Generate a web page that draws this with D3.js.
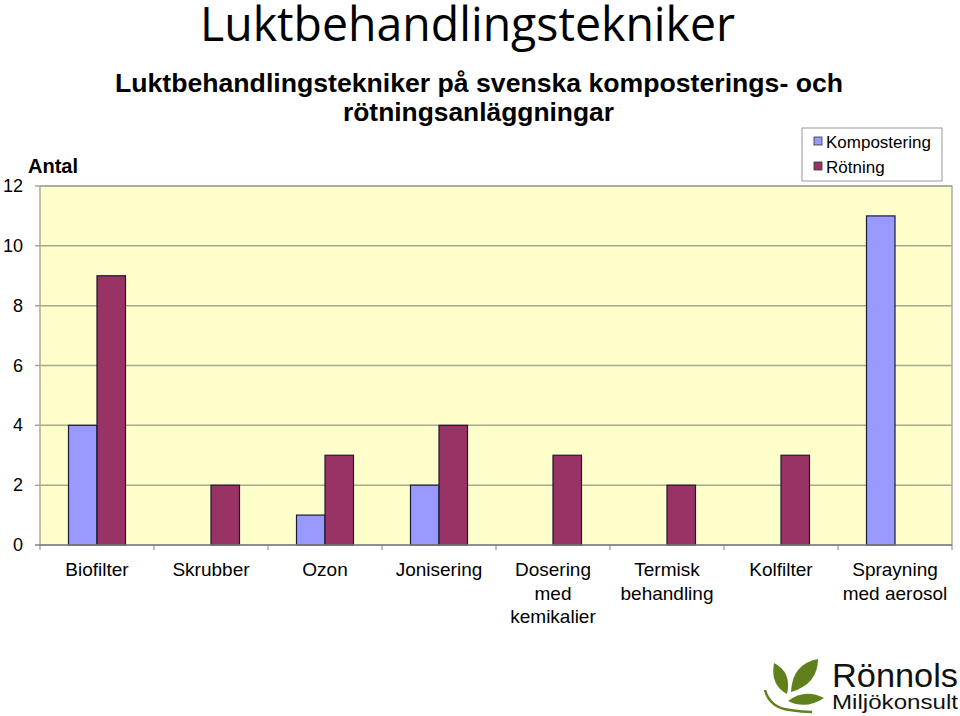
<!DOCTYPE html>
<html><head><meta charset="utf-8">
<script src="https://cdn.jsdelivr.net/npm/d3@7"></script>
<style>body{margin:0;background:#fff}svg{display:block}</style>
</head><body>
<script>
const categories = [["Biofilter"],["Skrubber"],["Ozon"],["Jonisering"],["Dosering","med","kemikalier"],["Termisk","behandling"],["Kolfilter"],["Sprayning","med aerosol"]];
const seriesNames = ["Kompostering","Rötning"];
const kompostering = [4,0,1,2,0,0,0,11];
const rotning = [9,2,3,4,3,2,3,0];
const yTicks = [0,2,4,6,8,10,12];
const colors = ["#9999FF","#993366"];

const W=960,H=716;
const svg=d3.select("body").append("svg").attr("width",W).attr("height",H);
const m={l:40,r:8,t:186,b:171};
const x=d3.scaleBand().domain(d3.range(categories.length)).range([m.l,W-m.r]);
const y=d3.scaleLinear().domain([0,12]).range([H-m.b,m.t]);
const font="Liberation Sans, Arial, sans-serif";

svg.append("text").attr("x",200).attr("y",41)
 .style("font-family","'Open Sans', Lato, sans-serif").style("font-size","47px").attr("fill","#000")
 .attr("textLength",535).attr("lengthAdjust","spacingAndGlyphs").text("Luktbehandlingstekniker");
svg.append("text").attr("x",115).attr("y",92).style("font-family",font).style("font-size","25px").style("font-weight","bold")
 .attr("textLength",728).attr("lengthAdjust","spacingAndGlyphs").text("Luktbehandlingstekniker på svenska komposterings- och");
svg.append("text").attr("x",343).attr("y",121).style("font-family",font).style("font-size","25px").style("font-weight","bold")
 .attr("textLength",271).attr("lengthAdjust","spacingAndGlyphs").text("rötningsanläggningar");

svg.append("rect").attr("x",m.l).attr("y",m.t).attr("width",W-m.r-m.l).attr("height",H-m.b-m.t).attr("fill","#FFFFCC").attr("stroke","#808080");
svg.append("g").selectAll("line").data(yTicks.filter(d=>d>0)).join("line")
 .attr("x1",m.l-5).attr("x2",W-m.r).attr("y1",d=>y(d)).attr("y2",d=>y(d)).attr("stroke","#a8a890").attr("stroke-width",1.5);
svg.append("g").selectAll("text").data(yTicks).join("text")
 .attr("x",23).attr("y",d=>y(d)+6).attr("text-anchor","end").style("font-family",font).style("font-size","18px").text(d=>d);
svg.append("text").attr("x",28).attr("y",173).style("font-family",font).style("font-size","20px").style("font-weight","bold").text("Antal");

const bw=x.bandwidth()/4;
const data=[kompostering,rotning];
data.forEach((s,si)=>{
 svg.append("g").selectAll("rect").data(s.map((v,i)=>({v,i})).filter(d=>d.v>0)).join("rect")
  .attr("x",d=>x(d.i)+x.bandwidth()/4+si*bw).attr("y",d=>y(d.v)).attr("width",bw).attr("height",d=>y(0)-y(d.v))
  .attr("fill",colors[si]).attr("stroke","#1a1a33").attr("stroke-width",1.2);
});
svg.append("line").attr("x1",m.l-5).attr("x2",W-m.r).attr("y1",y(0)).attr("y2",y(0)).attr("stroke","#808080").attr("stroke-width",1.5);
svg.append("g").selectAll("line").data(d3.range(categories.length+1)).join("line")
 .attr("x1",i=>m.l+i*x.step()).attr("x2",i=>m.l+i*x.step()).attr("y1",y(0)).attr("y2",y(0)+5).attr("stroke","#808080");
const xl=svg.append("g").selectAll("text").data(categories).join("text")
 .attr("x",(d,i)=>x(i)+x.bandwidth()/2).attr("y",576).attr("text-anchor","middle").style("font-family",font).style("font-size","19px");
xl.selectAll("tspan").data(d=>d).join("tspan").attr("x",function(){return this.parentNode.getAttribute("x")}).attr("dy",(d,i)=>i?23.5:0).text(d=>d);

const lg=svg.append("g");
lg.append("rect").attr("x",802).attr("y",128).attr("width",140).attr("height",53).attr("fill","#fff").attr("stroke","#999");
seriesNames.forEach((n,i)=>{
 lg.append("rect").attr("x",814).attr("y",137+i*25).attr("width",8).attr("height",8).attr("fill",colors[i]).attr("stroke","#333").attr("stroke-width",0.8);
 lg.append("text").attr("x",826).attr("y",148+i*25).style("font-family",font).style("font-size","17px").text(n);
});

// logo
const lgo=svg.append("g"), green="#5f801b";
lgo.append("path").attr("d","M765,690 Q770,708 790,710 Q802,712 812,712").attr("fill","none").attr("stroke",green).attr("stroke-width",2.5);
lgo.append("path").attr("d","M787,694 Q770,685 774,663 Q792,672 787,694Z").attr("fill",green);
lgo.append("path").attr("d","M791,692 Q792,664 818,659 Q818,684 791,692Z").attr("fill",green);
lgo.append("path").attr("d","M788,701 Q805,688 824,698 Q806,710 788,701Z").attr("fill",green);
lgo.append("text").attr("x",832).attr("y",687).style("font-family",font).style("font-size","34px").attr("textLength",126).attr("lengthAdjust","spacingAndGlyphs").attr("fill","#111").text("Rönnols");
lgo.append("text").attr("x",832).attr("y",709).style("font-family",font).style("font-size","21px").attr("textLength",126).attr("lengthAdjust","spacingAndGlyphs").attr("fill","#111").text("Miljökonsult");
</script>
</body></html>
